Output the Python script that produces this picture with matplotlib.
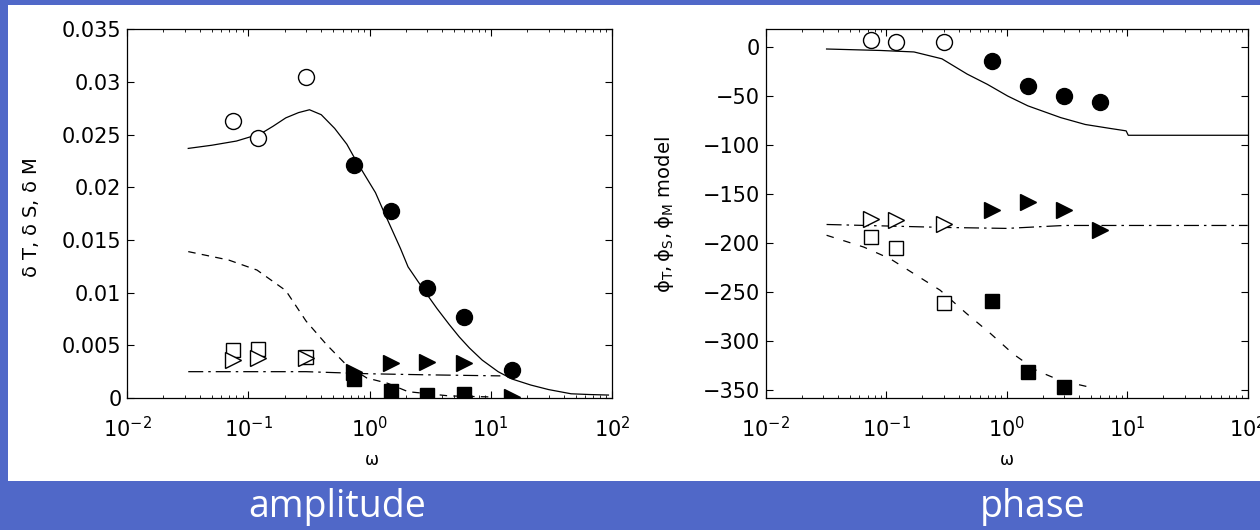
import numpy as np
import matplotlib
matplotlib.use("Agg")
import matplotlib.pyplot as plt
from matplotlib.patches import Rectangle

plt.rcParams['font.family'] = ['DejaVu Sans']
plt.rcParams['mathtext.fontset'] = 'dejavusans'
plt.rcParams['mathtext.default'] = 'regular'

# measurement frequencies
w_open = [0.075, 0.12, 0.30]
w_fill = [0.75, 1.5, 3.0, 6.0, 15.0]

# amplitude data
amp_T_open = [0.0263, 0.0247, 0.0305]
amp_T_fill = [0.0221, 0.0178, 0.0104, 0.0077, 0.0027]
amp_S_open = [0.0046, 0.0047, 0.0039]
amp_S_fill = [0.0018, 0.0007, 0.0003, 0.0004]
amp_M_open = [0.0036, 0.0038, 0.0038]
amp_M_fill = [0.0025, 0.0033, 0.0034, 0.0033, 0.0001]

# amplitude model curves
amp_T_w = [0.032, 0.05, 0.08, 0.127, 0.16, 0.204, 0.26, 0.32, 0.40, 0.516, 0.65, 0.76, 0.9,
           1.12, 1.3, 1.53, 1.8, 2.08, 2.5, 2.95, 3.6, 4.53, 5.5, 6.67, 8.5, 11.5, 15,
           21.4, 30, 46, 65, 93.5]
amp_T_model = [0.0237, 0.0240, 0.0244, 0.0251, 0.0258, 0.0266, 0.0271, 0.02737, 0.0269,
               0.0256, 0.0241, 0.0227, 0.0213, 0.0195, 0.0178, 0.0160, 0.0142, 0.01245,
               0.0111, 0.0099, 0.0085, 0.0070, 0.0058, 0.00475, 0.0036, 0.0025, 0.0018,
               0.00123, 0.0008, 0.0004, 0.00033, 0.00028]
amp_S_w = [0.032, 0.069, 0.118, 0.204, 0.30, 0.44, 0.65, 0.95, 1.41, 2.08, 4.53, 10]
amp_S_model = [0.0139, 0.0131, 0.01215, 0.0102, 0.0073, 0.0051, 0.0031, 0.0019, 0.0014,
               0.0006, 0.0002, 0.0001]
amp_M_w = [0.032, 0.3, 1.0, 3.0, 12]
amp_M_model = [0.0025, 0.0025, 0.0023, 0.0022, 0.0021]

# phase data
ph_T_open = [7, 5, 5]
ph_T_fill = [-14, -40, -50, -56]
ph_S_open = [-194, -205, -261]
ph_S_fill = [-259, -331, -347]
ph_M_open = [-175, -176, -181]
ph_M_fill = [-166, -158, -166, -187]

# phase model curves
ph_T_w = [0.032, 0.09, 0.17, 0.29, 0.47, 0.69, 1.02, 1.5, 2.81, 4.49, 7.2, 9.8, 10.2, 100]
ph_T_model = [-2, -3.5, -5, -12, -27.6, -38, -50, -60, -72, -79, -83, -85.5, -90, -90]
ph_S_w = [0.032, 0.065, 0.108, 0.179, 0.28, 0.466, 0.73, 1.13, 1.77, 2.77, 4.9]
ph_S_model = [-192, -204, -216, -233, -248, -272, -292, -313, -330, -340, -347]
ph_M_w = [0.032, 0.3, 1.0, 3.0, 100]
ph_M_model = [-181, -184, -185, -182, -182]

amp_yticks = [0, 0.005, 0.01, 0.015, 0.02, 0.025, 0.03, 0.035]
amp_ylabels = ['0', '0.005', '0.01', '0.015', '0.02', '0.025', '0.03', '0.035']
ph_yticks = [-350, -300, -250, -200, -150, -100, -50, 0]
xticks = [1e-2, 1e-1, 1e0, 1e1, 1e2]
xlabels = ['$10^{-2}$', '$10^{-1}$', '$10^{0}$', '$10^{1}$', '$10^{2}$']

blue = '#5068c8'
fig = plt.figure(figsize=(12.6, 5.3), dpi=100, facecolor=blue)
fig.patches.append(Rectangle((8 / 1260, 49 / 530), 1 - 8 / 1260, 476 / 530,
                             transform=fig.transFigure, facecolor='white',
                             edgecolor='none', zorder=-10))

ax1 = fig.add_axes([127 / 1260, 132 / 530, 485 / 1260, 368.6 / 530])
ax2 = fig.add_axes([765.7 / 1260, 132 / 530, 482 / 1260, 368.6 / 530])

ms_c, ms_s, ms_t = 11.5, 10, 12
open_kw = dict(linestyle='none', mfc='white', mec='black', mew=1)
fill_kw = dict(linestyle='none', color='black')

# amplitude panel
ax1.plot(amp_T_w, amp_T_model, '-', color='black', lw=0.9)
ax1.plot(amp_S_w, amp_S_model, color='black', lw=0.9, dashes=(6, 5))
ax1.plot(amp_M_w, amp_M_model, color='black', lw=0.9, dashes=(12, 4, 2, 4))
ax1.plot(w_open, amp_T_open, 'o', ms=ms_c, **open_kw)
ax1.plot(w_open, amp_S_open, 's', ms=ms_s, **open_kw)
ax1.plot(w_open, amp_M_open, '>', ms=ms_t, **open_kw)
ax1.plot(w_fill, amp_T_fill, 'o', ms=ms_c, **fill_kw)
ax1.plot(w_fill[:4], amp_S_fill, 's', ms=ms_s, **fill_kw)
ax1.plot(w_fill, amp_M_fill, '>', ms=ms_t, **fill_kw)
ax1.set_ylim(0, 0.035)
ax1.set_yticks(amp_yticks)
ax1.set_yticklabels(amp_ylabels)

# phase panel
ax2.plot(ph_T_w, ph_T_model, '-', color='black', lw=0.9)
ax2.plot(ph_S_w, ph_S_model, color='black', lw=0.9, dashes=(6, 8))
ax2.plot(ph_M_w, ph_M_model, color='black', lw=0.9, dashes=(12, 4, 2, 4))
ax2.plot(w_open, ph_T_open, 'o', ms=ms_c, **open_kw)
ax2.plot(w_open, ph_S_open, 's', ms=ms_s, **open_kw)
ax2.plot(w_open, ph_M_open, '>', ms=ms_t, **open_kw)
ax2.plot(w_fill[:4], ph_T_fill, 'o', ms=ms_c, **fill_kw)
ax2.plot(w_fill[:3], ph_S_fill, 's', ms=ms_s, **fill_kw)
ax2.plot(w_fill[:4], ph_M_fill, '>', ms=ms_t, **fill_kw)
ax2.set_ylim(-358, 18)
ax2.set_yticks(ph_yticks)

for ax in (ax1, ax2):
    ax.set_xscale('log')
    ax.set_xlim(1e-2, 1e2)
    ax.set_xticks(xticks)
    ax.set_xticklabels(xlabels)
    ax.patch.set_alpha(0)
    ax.tick_params(which='both', direction='in', top=True, right=True, labelsize=15)
    ax.tick_params(which='major', length=5, width=0.8)
    ax.tick_params(which='minor', length=2.5, width=0.6)
    ax.tick_params(axis='y', pad=4)
    ax.tick_params(axis='x', pad=13)
    for s in ax.spines.values():
        s.set_linewidth(0.9)

fig.text(371 / 1260, 70 / 530, r'$\omega$', ha='center', va='center', fontsize=12)
fig.text(1006 / 1260, 70 / 530, r'$\omega$', ha='center', va='center', fontsize=12)
fig.text(31 / 1260, 312 / 530, r'$\delta$ T, $\delta$ S, $\delta$ M', rotation=90,
         ha='center', va='center', fontsize=14)
fig.text(665 / 1260, 315 / 530, r'$\phi_T, \phi_S, \phi_M$ model', rotation=90,
         ha='center', va='center', fontsize=14)

fig.text(337 / 1260, 13 / 530, 'amplitude', ha='center', va='baseline',
         color='white', fontsize=27, family='Open Sans')
fig.text(1033 / 1260, 13 / 530, 'phase', ha='center', va='baseline',
         color='white', fontsize=27, family='Open Sans')

fig.savefig('out.png', dpi=100, facecolor=blue)
